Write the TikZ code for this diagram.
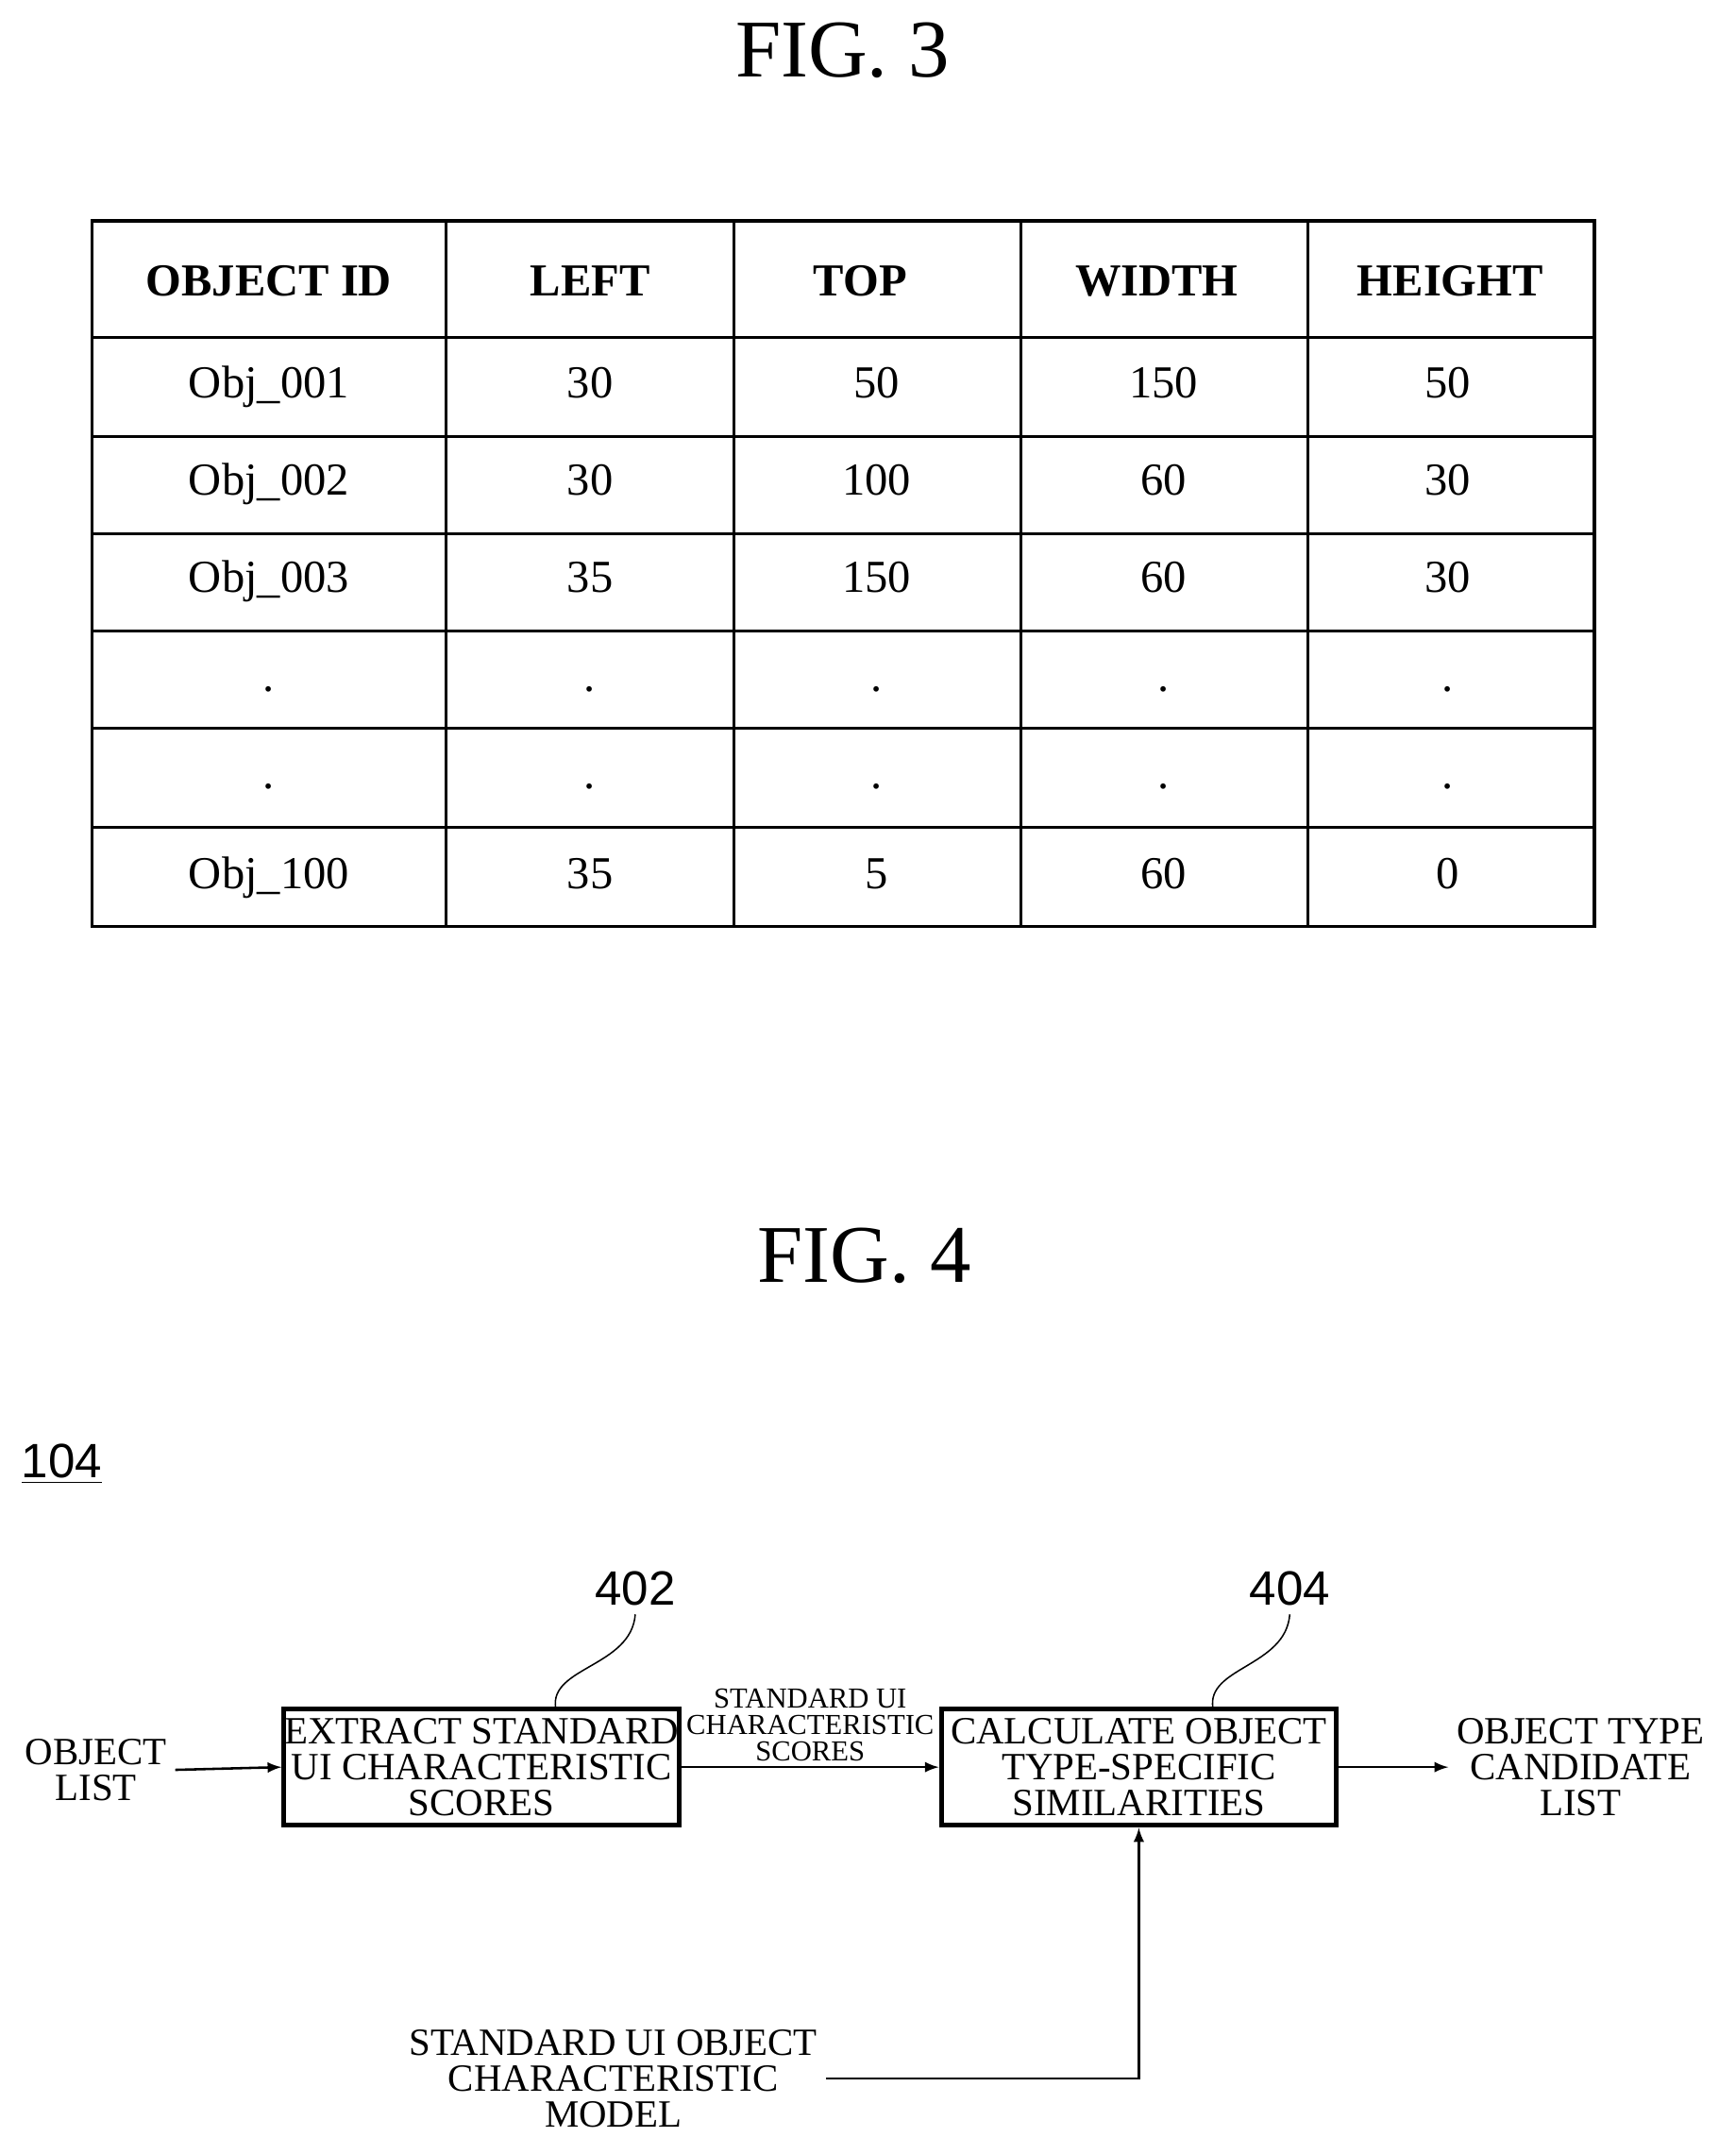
\documentclass[tikz,border=0pt]{standalone}
\usepackage{fontspec}
\setmainfont{Liberation Serif}
\newfontfamily\labelfont{Liberation Sans}
\usetikzlibrary{positioning}
\tikzset{
    cell/.style={font=\fontsize{19}{19}\selectfont, text height=13pt, text depth=4pt},
    head/.style={font=\fontsize{19}{19}\selectfont\bfseries},
    block/.style={draw, line width=2pt, minimum width=5.76cm, minimum height=1.7cm, align=center, inner sep=0pt, font=\fontsize{16}{15}\selectfont},
    side/.style={align=center, font=\fontsize{16}{15}\selectfont},
    refnum/.style={font=\labelfont\fontsize{20}{20}\selectfont},
}
\begin{document}
\begin{tikzpicture}[x=0.02cm, y=-0.02cm, >=latex]
    \useasboundingbox (0,0) rectangle (1265,1570);
    % FIG. 3
    \node[font=\fontsize{34}{34}\selectfont] (fig3) at (614,37) {FIG. 3};
    \draw[line width=1.2pt] (67,161) rectangle (1162,675);
    \foreach \x in {325,535,744,953} \draw[line width=1.2pt] (\x,161) -- (\x,675);
    \foreach \y in {246,318,389,460,531,603} \draw[line width=1.2pt] (67,\y) -- (1162,\y);
    \foreach \t/\x in {OBJECT ID/196,LEFT/430,TOP/627,WIDTH/843,HEIGHT/1057}
        \node[head] at (\x,205) {\t};
    \foreach \y/\a/\b/\c/\d/\e in {282/Obj\_001/30/50/150/50, 353/Obj\_002/30/100/60/30, 424/Obj\_003/35/150/60/30, 496/./././././, 567/./././././, 640/Obj\_100/35/5/60/0} {
        \node[cell] at (196,\y) {\a};
        \node[cell] at (430,\y) {\b};
        \node[cell] at (639,\y) {\c};
        \node[cell] at (848,\y) {\d};
        \node[cell] at (1055,\y) {\e};
    }
    % FIG. 4
    \node[font=\fontsize{34}{34}\selectfont] (fig4) at (630,915) {FIG. 4};
    \node[refnum] (sys) at (45,1067) {\underline{104}};
    \node[block] (extract) at (351,1288) {EXTRACT STANDARD\\UI CHARACTERISTIC\\SCORES};
    \node[block] (calc) at (830,1288) {CALCULATE OBJECT\\TYPE-SPECIFIC\\SIMILARITIES};
    \node[side] (input) at (70,1290) {OBJECT\\LIST};
    \node[side] (output) at (1152,1288) {OBJECT TYPE\\CANDIDATE\\LIST};
    \node[side] (model) at (447,1515) {STANDARD UI OBJECT\\CHARACTERISTIC\\MODEL};
    \node[refnum] (n402) at (463,1158) {402};
    \node[refnum] (n404) at (940,1158) {404};
    \draw[->, line width=1pt] (input.east) -- (extract.west);
    \draw[->, line width=1pt] (extract.east) -- node[above, align=center, font=\fontsize{12}{11}\selectfont, inner sep=2pt] {STANDARD UI\\CHARACTERISTIC\\SCORES} (calc.west);
    \draw[->, line width=1pt] (calc.east) -- (output.west);
    \draw[->, line width=1pt] (model.east) -| (calc.south);
    \draw[line width=0.6pt] (405,1245) .. controls (400,1215) and (460,1215) .. (n402.south);
    \draw[line width=0.6pt] (884,1245) .. controls (879,1215) and (937,1215) .. (n404.south);
\end{tikzpicture}
\end{document}
